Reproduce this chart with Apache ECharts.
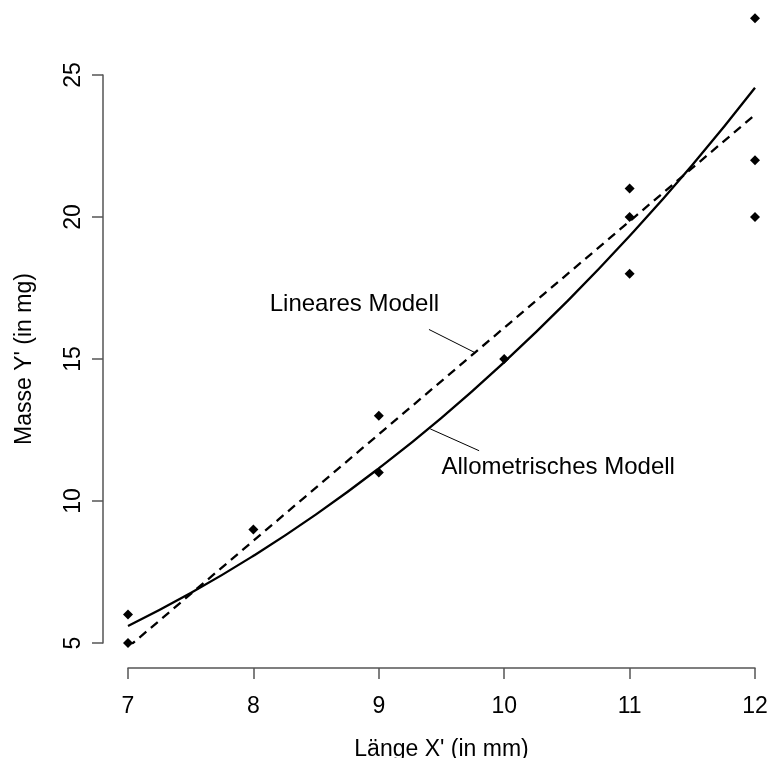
<!DOCTYPE html>
<html>
<head>
<meta charset="utf-8">
<script src="https://cdn.jsdelivr.net/npm/echarts@6/dist/echarts.min.js"></script>
<style>
  html, body { margin: 0; padding: 0; background: #fff; }
  #chartsDom { width: 769px; height: 758px; }
</style>
</head>
<body>
<div id="chartsDom"></div>
<script>
// Messwerte (Länge, Masse)
const laenge = [7, 7, 8, 9, 9, 10, 11, 11, 11, 12, 12, 12];
const masse = [6, 5, 9, 13, 11, 15, 21, 20, 18, 27, 22, 20];

// allometrisches Modell
const alloX = [7, 7.5, 8, 8.5, 9, 9.5, 10, 10.5, 11, 11.5, 12];
const alloY = [5.6, 6.76, 8.07, 9.53, 11.15, 12.93, 14.89, 17.02, 19.33, 21.83, 24.55];

// lineares Modell
const linX = [7, 12];
const linY = [4.85, 23.6];

const xTicks = [7, 8, 9, 10, 11, 12];
const yTicks = [5, 10, 15, 20, 25];

const FONT = "'Liberation Sans', Arial, sans-serif";

const myChart = echarts.init(document.getElementById("chartsDom"));

const axisStyle = {
  axisLine: { show: true, lineStyle: { color: "#555", width: 1.5 } },
  axisTick: { show: true, length: 11, lineStyle: { color: "#555", width: 1.5 } },
  splitLine: { show: false }
};

let option = {
  animation: false,
  backgroundColor: "#fff",
  grid: { left: 128, right: 14, top: 75, bottom: 115, outerBoundsMode: "none", containLabel: false },
  xAxis: {
    type: "value",
    min: xTicks[0],
    max: xTicks[xTicks.length - 1],
    interval: 1,
    offset: 25,
    name: "Länge X' (in mm)",
    nameLocation: "middle",
    nameGap: 70,
    nameTextStyle: { fontFamily: FONT, fontSize: 23, color: "#000" },
    axisLabel: { fontFamily: FONT, fontSize: 23, color: "#000", margin: 27 },
    ...axisStyle
  },
  yAxis: {
    type: "value",
    min: yTicks[0],
    max: yTicks[yTicks.length - 1],
    interval: 5,
    offset: 25,
    name: "Masse Y' (in mg)",
    nameLocation: "middle",
    nameGap: 67,
    nameTextStyle: { fontFamily: FONT, fontSize: 23, color: "#000" },
    axisLabel: { fontFamily: FONT, fontSize: 23, color: "#000", rotate: 90, margin: 18 },
    ...axisStyle
  },
  series: [
    {
      name: "Daten",
      type: "scatter",
      clip: false,
      symbol: "diamond",
      symbolSize: 10,
      itemStyle: { color: "#000", opacity: 1 },
      data: laenge.map((x, i) => [x, masse[i]])
    },
    {
      name: "Allometrisches Modell",
      type: "line",
      smooth: true,
      showSymbol: false,
      lineStyle: { color: "#000", width: 2.3 },
      data: alloX.map((x, i) => [x, alloY[i]])
    },
    {
      name: "Lineares Modell",
      type: "line",
      showSymbol: false,
      lineStyle: { color: "#000", width: 2.3, type: [9, 6] },
      data: linX.map((x, i) => [x, linY[i]])
    }
  ]
};
myChart.setOption(option);

// Beschriftungen mit Hinweislinien (in Datenkoordinaten)
const labels = [
  { text: "Lineares Modell", at: [8.13, 16.5], from: [9.4, 16.04], to: [9.76, 15.24] },
  { text: "Allometrisches Modell", at: [9.5, 10.75], from: [9.41, 12.54], to: [9.8, 11.77] }
];
const px = p => myChart.convertToPixel({ gridIndex: 0 }, p);
const graphic = [];
labels.forEach(l => {
  const a = px(l.at), f = px(l.from), t = px(l.to);
  graphic.push({
    type: "text",
    x: a[0],
    y: a[1],
    style: { text: l.text, font: "24px " + FONT, fill: "#000", textVerticalAlign: "bottom" }
  });
  graphic.push({
    type: "line",
    shape: { x1: f[0], y1: f[1], x2: t[0], y2: t[1] },
    style: { stroke: "#000", lineWidth: 1 }
  });
});
myChart.setOption({ graphic });
</script>
</body>
</html>
